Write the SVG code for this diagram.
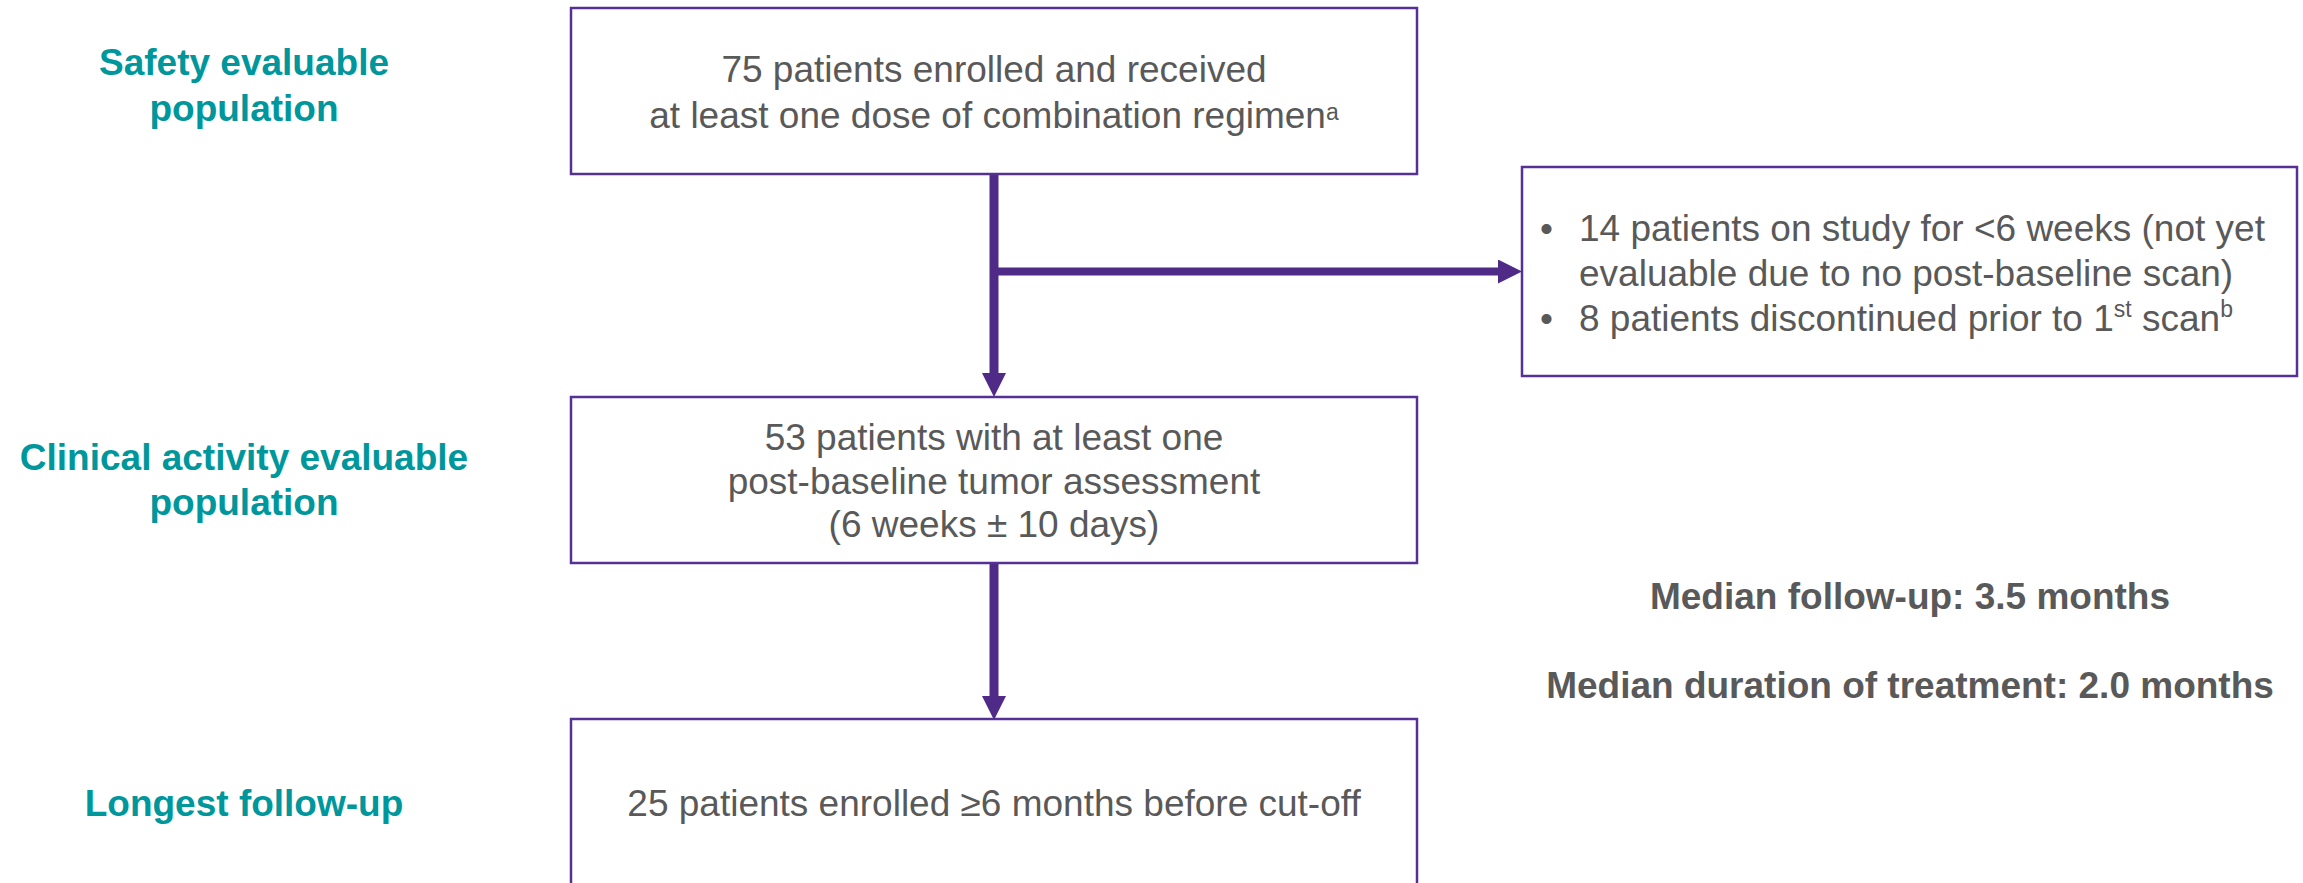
<svg xmlns="http://www.w3.org/2000/svg" width="2303" height="883" viewBox="0 0 2303 883">
<defs>
<style>
.box{fill:#ffffff;stroke:#553195;stroke-width:2.5}
.t{font-family:"Liberation Sans",Arial,sans-serif;font-size:37px;fill:#595959}
.lbl{font-family:"Liberation Sans",Arial,sans-serif;font-size:37px;font-weight:bold;fill:#00979C;text-anchor:middle}
.stat{font-family:"Liberation Sans",Arial,sans-serif;font-size:37px;font-weight:bold;fill:#595959;text-anchor:middle}
.mid{text-anchor:middle}
.sup{font-size:23px}
.conn{stroke:#4F2A87;fill:none}
</style>
<marker id="ah" markerUnits="userSpaceOnUse" viewBox="0 0 24 24" refX="0" refY="12" markerWidth="24" markerHeight="24" orient="auto">
<path d="M0,0 L24,12 L0,24 z" fill="#4F2A87"/>
</marker>
</defs>
<rect width="2303" height="883" fill="#ffffff"/>

<g id="labels">
<text class="lbl" x="244" y="75">Safety evaluable</text>
<text class="lbl" x="244" y="121">population</text>
<text class="lbl" x="244" y="470">Clinical activity evaluable</text>
<text class="lbl" x="244" y="515">population</text>
<text class="lbl" x="244" y="816">Longest follow-up</text>
</g>

<g id="connectors">
<line class="conn" x1="994" y1="174" x2="994" y2="373" stroke-width="9" marker-end="url(#ah)"/>
<line class="conn" x1="994" y1="271.5" x2="1498" y2="271.5" stroke-width="8" marker-end="url(#ah)"/>
<line class="conn" x1="994" y1="563" x2="994" y2="696" stroke-width="9" marker-end="url(#ah)"/>
</g>

<g id="node-safety">
<rect class="box" x="571" y="8" width="846" height="166"/>
<text class="t mid" x="994" y="82">75 patients enrolled and received</text>
<text class="t mid" x="994" y="128">at least one dose of combination regimen<tspan class="sup" dy="-8">a</tspan></text>
</g>

<g id="node-excluded">
<rect class="box" x="1522" y="167" width="775" height="209"/>
<text class="t" x="1540" y="241">•</text>
<text class="t" x="1579" y="241">14 patients on study for &lt;6 weeks (not yet</text>
<text class="t" x="1579" y="286">evaluable due to no post-baseline scan)</text>
<text class="t" x="1540" y="331">•</text>
<text class="t" x="1579" y="331">8 patients discontinued prior to 1<tspan class="sup" dy="-14">st</tspan><tspan dy="14"> scan</tspan><tspan class="sup" dy="-14">b</tspan></text>
</g>

<g id="node-clinical">
<rect class="box" x="571" y="397" width="846" height="166"/>
<text class="t mid" x="994" y="450">53 patients with at least one</text>
<text class="t mid" x="994" y="494">post-baseline tumor assessment</text>
<text class="t mid" x="994" y="537">(6 weeks ± 10 days)</text>
</g>

<g id="node-longest">
<rect class="box" x="571" y="719" width="846" height="200"/>
<text class="t mid" x="994" y="816">25 patients enrolled ≥6 months before cut-off</text>
</g>

<g id="stats">
<text class="stat" x="1910" y="609">Median follow-up: 3.5 months</text>
<text class="stat" x="1910" y="698">Median duration of treatment: 2.0 months</text>
</g>
</svg>
